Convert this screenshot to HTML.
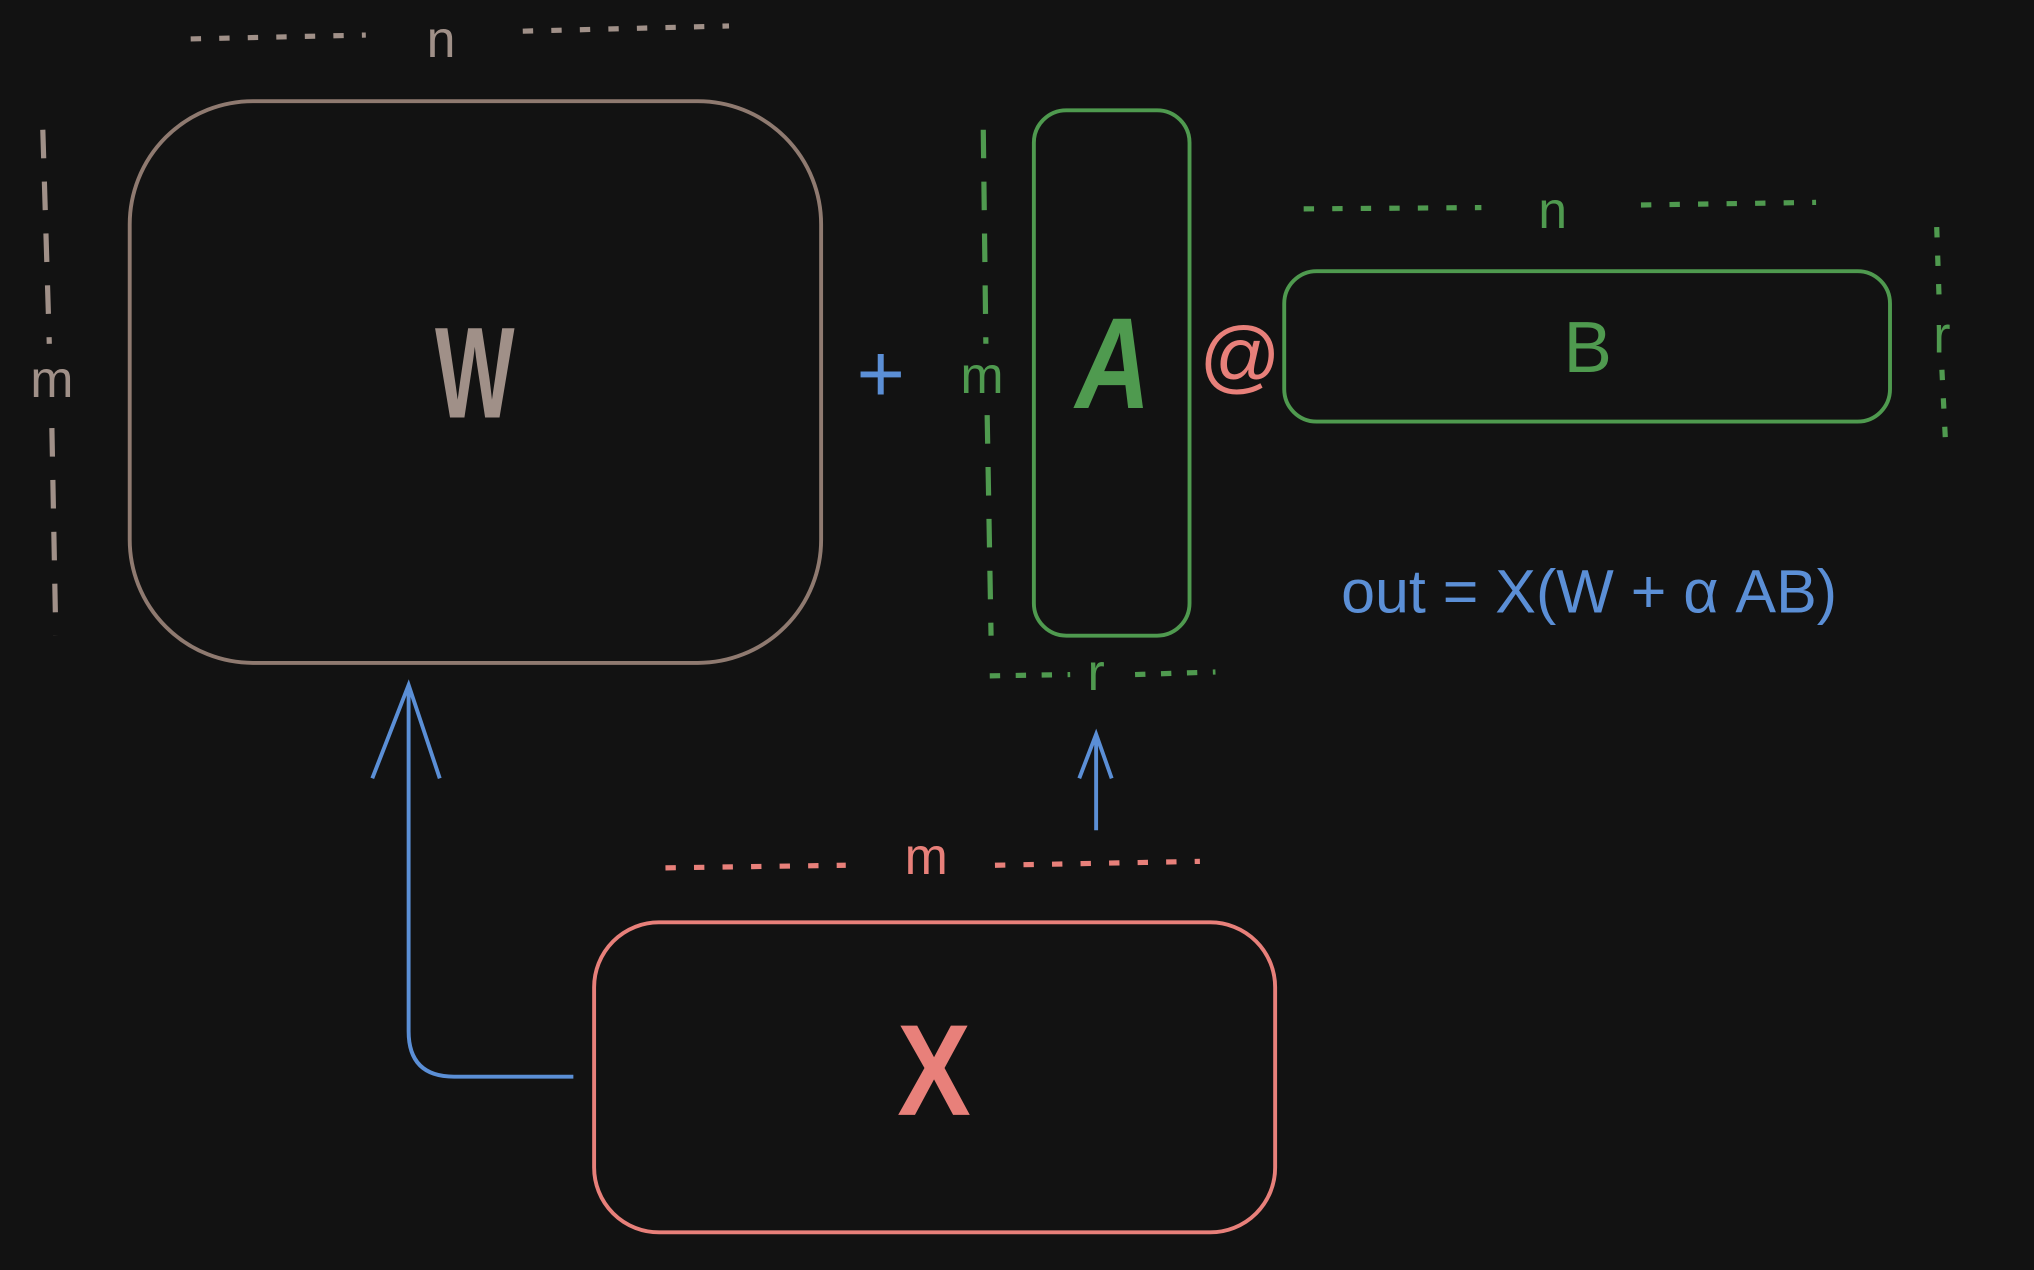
<!DOCTYPE html>
<html><head><meta charset="utf-8"><style>
html,body{margin:0;padding:0;background:#121212;}
svg{display:block}
text{font-family:"Liberation Sans",sans-serif;text-anchor:middle;dominant-baseline:central}
</style></head><body>
<svg width="2034" height="1270" viewBox="0 0 1568 979" xmlns="http://www.w3.org/2000/svg">
<rect width="1568" height="979" fill="#121212"/>
<!-- W -->
<rect x="100" y="78" width="533" height="433" rx="95" fill="none" stroke="#8f7a70" stroke-width="3"/>
<text x="0" y="288" font-size="100" fill="#a09088" font-weight="bold" transform="translate(366 0) scale(0.65 1)">W</text>
<line x1="147" y1="30" x2="282" y2="27" stroke="#a09088" stroke-width="4" stroke-dasharray="8 14"/>
<line x1="403" y1="24" x2="562" y2="20" stroke="#a09088" stroke-width="4" stroke-dasharray="8 14"/>
<text x="340" y="30" font-size="40" fill="#a09088">n</text>
<line x1="33" y1="100" x2="38" y2="265" stroke="#a09088" stroke-width="4" stroke-dasharray="22 18"/>
<line x1="40" y1="330" x2="43" y2="490" stroke="#a09088" stroke-width="4" stroke-dasharray="22 18"/>
<text x="40" y="292" font-size="40" fill="#a09088">m</text>
<text x="679" y="288" font-size="64" fill="#5b8fd6">+</text>
<!-- A -->
<line x1="758" y1="100" x2="760" y2="265" stroke="#4f9a4f" stroke-width="4" stroke-dasharray="22 18"/>
<line x1="761" y1="320" x2="764" y2="490" stroke="#4f9a4f" stroke-width="4" stroke-dasharray="22 18"/>
<text x="757" y="289" font-size="40" fill="#4f9a4f">m</text>
<rect x="797" y="85" width="120" height="405" rx="25" fill="none" stroke="#4f9a4f" stroke-width="3"/>
<text x="0" y="280" font-size="100" fill="#4f9a4f" font-weight="bold" font-style="italic" transform="translate(858 0) scale(0.8 1)">A</text>
<text x="956" y="275" font-size="62" fill="#e8807a">@</text>
<line x1="763" y1="521" x2="825" y2="520" stroke="#4f9a4f" stroke-width="4" stroke-dasharray="8 12"/>
<line x1="875" y1="520" x2="937" y2="518" stroke="#4f9a4f" stroke-width="4" stroke-dasharray="8 12"/>
<text x="845" y="518" font-size="40" fill="#4f9a4f">r</text>
<!-- B -->
<rect x="990" y="209" width="467" height="116" rx="25" fill="none" stroke="#4f9a4f" stroke-width="3"/>
<text x="1224" y="268" font-size="56" fill="#4f9a4f">B</text>
<line x1="1005" y1="161" x2="1142" y2="160" stroke="#4f9a4f" stroke-width="4" stroke-dasharray="8 14"/>
<line x1="1265" y1="158" x2="1400" y2="156" stroke="#4f9a4f" stroke-width="4" stroke-dasharray="8 14"/>
<text x="1197" y="162" font-size="40" fill="#4f9a4f">n</text>
<line x1="1493" y1="175" x2="1495" y2="235" stroke="#4f9a4f" stroke-width="4" stroke-dasharray="8 14"/>
<line x1="1497" y1="285" x2="1500" y2="345" stroke="#4f9a4f" stroke-width="4" stroke-dasharray="8 14"/>
<text x="1497" y="258" font-size="40" fill="#4f9a4f">r</text>
<text x="1225" y="456" font-size="47" fill="#5b8fd6">out = X(W + α AB)</text>
<!-- arrows -->
<path d="M845 640 L845 566 M832 600 L845 566 L857 600" fill="none" stroke="#5b8fd6" stroke-width="3"/>
<path d="M442 830 L350 830 Q315 830 315 795 L315 528 M287 600 L315 528 L339 600" fill="none" stroke="#5b8fd6" stroke-width="3"/>
<!-- X -->
<line x1="513" y1="669" x2="652" y2="667" stroke="#e8807a" stroke-width="4" stroke-dasharray="8 14"/>
<line x1="767" y1="667" x2="925" y2="664" stroke="#e8807a" stroke-width="4" stroke-dasharray="8 14"/>
<text x="714" y="660" font-size="40" fill="#e8807a">m</text>
<rect x="458" y="711" width="525" height="239" rx="50" fill="none" stroke="#e8807a" stroke-width="3"/>
<text x="0" y="825" font-size="100" fill="#e8807a" font-weight="bold" transform="translate(720 0) scale(0.85 1)">X</text>
</svg>
</body></html>
